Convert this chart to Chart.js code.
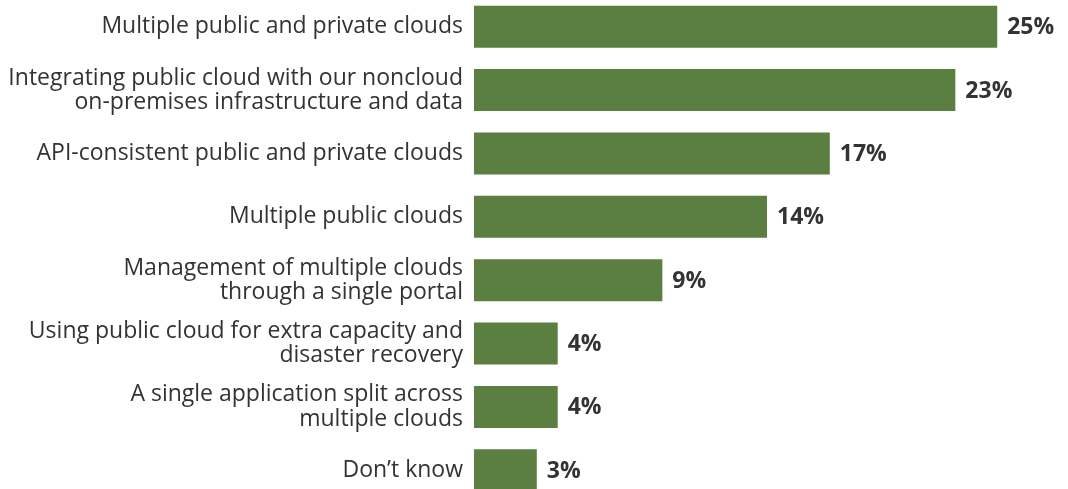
<!DOCTYPE html>
<html>
<head>
<meta charset="utf-8">
<script src="https://cdn.jsdelivr.net/npm/chart.js@4"></script>
<style>
    html, body { margin: 0; padding: 0; background: #fff; overflow: hidden; }
    #wrap { position: absolute; left: 0; top: -5px; width: 1068px; height: 507px; }
</style>
</head>
<body>
<div id="wrap"><canvas id="cloudChart"></canvas></div>
<script>
// Cloud strategy chart
const categories = [
    'Multiple public and private clouds',
    ['Integrating public cloud with our noncloud', 'on-premises infrastructure and data'],
    'API-consistent public and private clouds',
    'Multiple public clouds',
    ['Management of multiple clouds', 'through a single portal'],
    ['Using public cloud for extra capacity and', 'disaster recovery'],
    ['A single application split across', 'multiple clouds'],
    'Don\u2019t know'
];
const shares = [25, 23, 17, 14, 9, 4, 4, 3];

const barColor = '#5b7f41';
const textColor = '#333333';
const fontFamily = '"Open Sans", "Liberation Sans", Arial, sans-serif';

// draw "NN%" just past the end of each bar
const valueLabels = {
    id: 'valueLabels',
    afterDatasetsDraw(chart) {
        const ctx = chart.ctx;
        const meta = chart.getDatasetMeta(0);
        ctx.save();
        ctx.font = 'bold 23px ' + fontFamily;
        ctx.fillStyle = textColor;
        ctx.textAlign = 'left';
        ctx.textBaseline = 'middle';
        meta.data.forEach(function(bar, i) {
            ctx.fillText(shares[i] + '%', bar.x + 10, bar.y + 1);
        });
        ctx.restore();
    }
};

new Chart(document.getElementById('cloudChart'), {
    type: 'bar',
    data: {
        labels: categories,
        datasets: [{
            data: shares,
            backgroundColor: barColor,
            categoryPercentage: 1,
            barPercentage: 0.662
        }]
    },
    options: {
        indexAxis: 'y',
        responsive: true,
        maintainAspectRatio: false,
        animation: false,
        layout: { padding: { left: 0, right: 8, top: 0, bottom: 0 } },
        scales: {
            x: {
                display: false,
                min: 0,
                max: 28
            },
            y: {
                grid: { display: false, drawTicks: false },
                border: { display: false },
                ticks: {
                    color: textColor,
                    padding: 11,
                    font: { family: fontFamily, size: 23, lineHeight: 1.05 }
                },
                afterFit: function(scale) {
                    scale.width = 474;
                    scale.paddingTop = 0;
                    scale.paddingBottom = 0;
                }
            }
        },
        plugins: {
            legend: { display: false },
            tooltip: { enabled: false }
        }
    },
    plugins: [valueLabels]
});
</script>
</body>
</html>
